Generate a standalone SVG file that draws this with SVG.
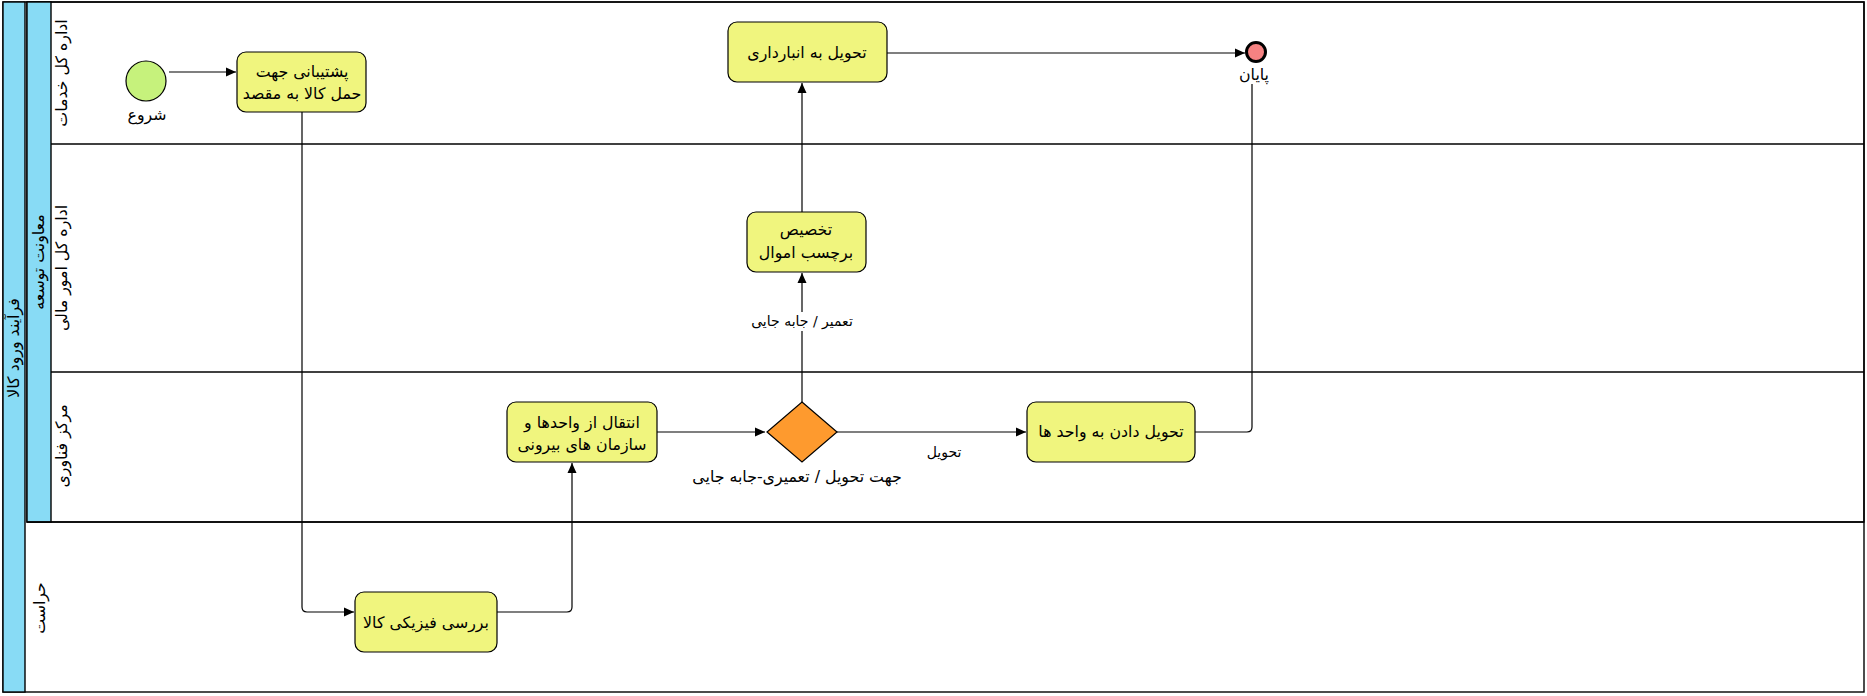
<svg xmlns="http://www.w3.org/2000/svg" width="1867" height="696" viewBox="0 0 1867 696">
<style>
.ln{fill:none;stroke:#000;stroke-width:1.4}
.band{fill:#88dbf5;stroke:#000;stroke-width:1.4}
.task{fill:#f0f57e;stroke:#000;stroke-width:1.2}
.t{font-family:"DejaVu Sans",sans-serif;font-size:15.8px;fill:#000;text-anchor:middle;direction:rtl}
.lbl{font-family:"DejaVu Sans",sans-serif;font-size:14px;fill:#000;text-anchor:middle;direction:rtl}
.edge{fill:none;stroke:#000;stroke-width:1.2}
</style>
<defs>
<marker id="ah" viewBox="0 0 10 10" refX="10" refY="5" markerWidth="10" markerHeight="10" markerUnits="userSpaceOnUse" orient="auto">
<path d="M0,0.5 L10,5 L0,9.5 Z" fill="#000"/>
</marker>
</defs>
<rect width="1867" height="696" fill="#fff"/>
<g id="pool">
<rect x="3" y="2" width="1861" height="690" class="ln"/>
<rect x="3" y="2" width="22" height="690" class="band"/>
<text class="t" transform="translate(19,348) rotate(-90)">فرآیند ورود کالا</text>
</g>
<g id="subpool">
<rect x="27" y="2" width="1837" height="520" class="ln"/>
<rect x="27" y="2" width="24" height="520" class="band"/>
<text class="t" transform="translate(44,262) rotate(-90)">معاونت توسعه</text>
</g>
<g id="lane1">
<line x1="51" y1="144" x2="1864" y2="144" class="ln"/>
<text class="t" transform="translate(67,73) rotate(-90)">اداره کل خدمات</text>
</g>
<g id="lane2">
<line x1="51" y1="372" x2="1864" y2="372" class="ln"/>
<text class="t" transform="translate(67,268) rotate(-90)">اداره کل امور مالی</text>
</g>
<g id="lane3">
<text class="t" transform="translate(67,446) rotate(-90)">مرکز فناوری</text>
</g>
<g id="lane4">
<line x1="27" y1="522" x2="1864" y2="522" class="ln"/>
<text class="t" transform="translate(45,608) rotate(-90)">حراست</text>
</g>
<g id="connectors">
<line x1="169" y1="72" x2="236" y2="72" class="edge" marker-end="url(#ah)"/>
<path d="M302,112 V607 Q302,612 307,612 H354" class="edge" marker-end="url(#ah)"/>
<path d="M497,612 H567 Q572,612 572,607 V463" class="edge" marker-end="url(#ah)"/>
<line x1="657" y1="432" x2="765" y2="432" class="edge" marker-end="url(#ah)"/>
<line x1="802" y1="402" x2="802" y2="273" class="edge" marker-end="url(#ah)"/>
<line x1="802" y1="212" x2="802" y2="83" class="edge" marker-end="url(#ah)"/>
<line x1="887" y1="53" x2="1245" y2="53" class="edge" marker-end="url(#ah)"/>
<line x1="837" y1="432" x2="1026" y2="432" class="edge" marker-end="url(#ah)"/>
<path d="M1195,432 H1247 Q1252,432 1252,427 V84" class="edge"/>
<rect x="743" y="312" width="118" height="19" fill="#fff"/>
<text class="lbl" x="802" y="326">تعمیر / جابه جایی</text>
<text class="lbl" x="944" y="457">تحویل</text>
</g>
<g id="start">
<circle cx="146" cy="81" r="20" fill="#c6f27c" stroke="#000" stroke-width="1.2"/>
<text class="t" x="147" y="120">شروع</text>
</g>
<g id="task1">
<rect x="237" y="52" width="129" height="60" rx="9" class="task"/>
<text class="t" x="302" y="77">پشتیبانی جهت</text>
<text class="t" x="302" y="99">حمل کالا به مقصد</text>
</g>
<g id="task_physical">
<rect x="355" y="592" width="142" height="60" rx="9" class="task"/>
<text class="t" x="426" y="628">بررسی فیزیکی کالا</text>
</g>
<g id="task_transfer">
<rect x="507" y="402" width="150" height="60" rx="9" class="task"/>
<text class="t" x="582" y="428">انتقال از واحدها و</text>
<text class="t" x="582" y="450">سازمان های بیرونی</text>
</g>
<g id="gateway">
<path d="M802,402 L837,432 L802,462 L767,432 Z" fill="#fe9a2e" stroke="#000" stroke-width="1.2"/>
<text class="t" x="797" y="482">جهت تحویل / تعمیری-جابه جایی</text>
</g>
<g id="task_label">
<rect x="747" y="212" width="119" height="60" rx="9" class="task"/>
<text class="t" x="806" y="235">تخصیص</text>
<text class="t" x="806" y="258">برچسب اموال</text>
</g>
<g id="task_store">
<rect x="728" y="22" width="159" height="60" rx="9" class="task"/>
<text class="t" x="807" y="58">تحویل به انبارداری</text>
</g>
<g id="task_deliver">
<rect x="1027" y="402" width="168" height="60" rx="9" class="task"/>
<text class="t" x="1111" y="437">تحویل دادن به واحد ها</text>
</g>
<g id="end">
<circle cx="1256" cy="52" r="9.5" fill="#f58282" stroke="#000" stroke-width="3"/>
<text class="t" x="1254" y="80">پایان</text>
</g>
</svg>
